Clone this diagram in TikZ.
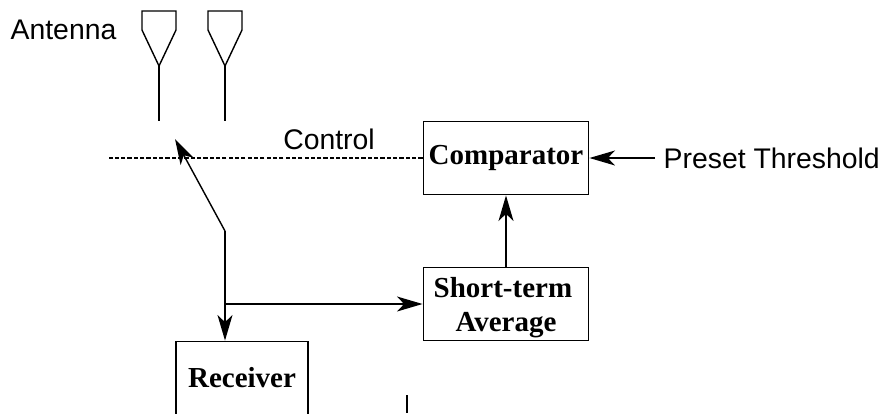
\documentclass[tikz,border=0pt]{standalone}
\usepackage{fontspec}
\setmainfont{Liberation Serif}
\newfontfamily\labelfont{Liberation Sans}
\usetikzlibrary{arrows.meta}
\tikzset{CDblock/.style={shape=rectangle,draw,line width=.8pt,minimum height=1.47cm,inner sep=0pt,align=center,font=\fontsize{16.5}{19.5}\selectfont\bfseries}}
\tikzset{CDlabel/.style={inner sep=0pt,font=\labelfont\fontsize{16.15}{19}\selectfont}}
\tikzset{CDtip/.style={-{Stealth[length=14.5pt,width=8.5pt,inset=4pt]}}}

\begin{document}
\begin{tikzpicture}[x=0.02cm,y=-0.02cm,line width=.8pt]
	\useasboundingbox (0,0) rectangle (882,413);
	\node[CDblock,minimum width=3.31cm] (Comp) at (506,158) {Comparator};
	\node[CDblock,minimum width=3.31cm] (Avg) at (506,304) {\rule{0pt}{16pt}Short-term\kern3.5pt\\Average};
	\node[CDblock,minimum width=2.64cm] (Rx) at (242,378) {Receiver};
	\node[CDlabel] (Ant) at (63.5,30) {Antenna};
	\node[CDlabel] (Ctrl) at (329,139) {Control};
	\node[CDlabel,anchor=west] (Thr) at (663,158) {Preset Threshold};
	%
	\coordinate (T1) at (159,66);
	\coordinate (S1) at (159,121);
	\coordinate (T2) at (225,66);
	\coordinate (S2) at (225,121);
	\coordinate (Pole) at (225,231);
	\coordinate (Tip) at (175,139);
	\coordinate (Fork) at (225,304);
	\coordinate (End) at (109,158);
	\coordinate (Ca) at (407,395);
	\coordinate (Cb) at (407,413);
	%
	\draw (T1) -- (S1);
	\draw (T2) -- (S2);
	\draw (T1) -- (142,30) -- (142,11) -- (176,11) -- (176,30) -- cycle;
	\draw (T2) -- (208,30) -- (208,11) -- (242,11) -- (242,30) -- cycle;
	\draw[line width=.6pt,dash pattern=on 2.4pt off 1.2pt] (Comp.west) -- (End);
	\draw (Ca) -- (Cb);
	%
	\path[CDtip]
	(Pole) edge (Tip)
	(Pole) edge (Rx.north -| Pole)
	(Fork) edge (Avg.west)
	(Avg.north) edge (Comp.south)
	(Thr.west) ++(-8,0) edge (Comp.east);
\end{tikzpicture}
\end{document}
